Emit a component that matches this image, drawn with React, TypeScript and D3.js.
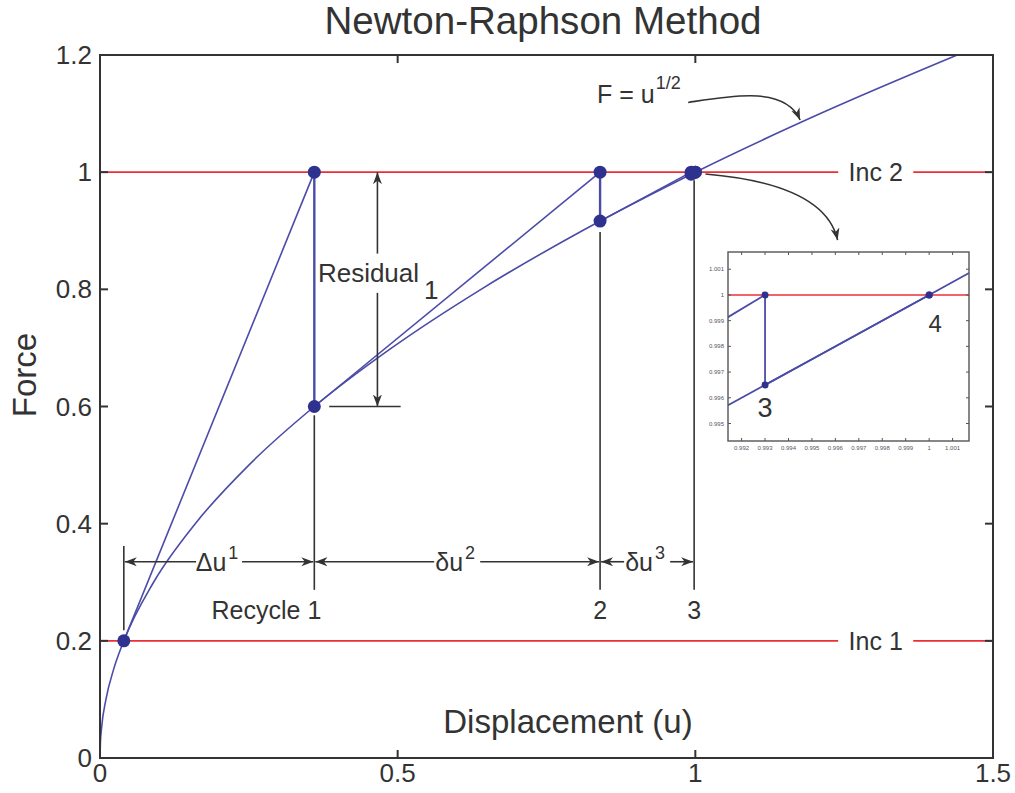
import React from "react";
import * as d3 from "d3";

const W = 1015;
const H = 793;
const PLOT = { left: 100, right: 993, top: 55, bottom: 758 };
const INSET = { left: 728, right: 969, top: 252, bottom: 441 };

const xTicks = [0, 0.5, 1, 1.5];
const yTicks = [0, 0.2, 0.4, 0.6, 0.8, 1, 1.2];

// F = u^1/2, sampled
const curveU = [0, 0.000625, 0.0025, 0.01, 0.0225, 0.04, 0.09, 0.16, 0.25, 0.36, 0.49, 0.64, 0.81, 1, 1.21, 1.44];
const curveF = [0, 0.025, 0.05, 0.1, 0.15, 0.2, 0.3, 0.4, 0.5, 0.6, 0.7, 0.8, 0.9, 1, 1.1, 1.2];

// Newton-Raphson iterations
const iterU = [0.04, 0.36, 0.84, 0.993, 1.0];
const iterF = [0.2, 0.6, 0.9165, 0.9965, 1.0];

const incLevels = [0.2, 1];
const incLabels = ["Inc 1", "Inc 2"];

// recycle markers and dimension arrows
const extU = [0.36, 0.84, 0.998];
const extTopF = [0.585, 0.898, 0.986];
const dimFrom = [0.04, 0.36, 0.84];
const dimTo = [0.36, 0.84, 0.998];
const dimBase = ["\u0394u", "\u03b4u", "\u03b4u"];
const dimSup = ["1", "2", "3"];
const recycleLabels = ["Recycle 1", "2", "3"];

// inset (zoom near u = 1)
const insetU = [0.9914, 0.995, 1.0, 1.0017];
const insetF = [0.9957, 0.9975, 1.0, 1.00085];
const insetXTicks = [0.992, 0.993, 0.994, 0.995, 0.996, 0.997, 0.998, 0.999, 1, 1.001];
const insetXLabels = ["0.992", "0.993", "0.994", "0.995", "0.996", "0.997", "0.998", "0.999", "1", "1.001"];
const insetYTicks = [0.995, 0.996, 0.997, 0.998, 0.999, 1, 1.001];
const insetYLabels = ["0.995", "0.996", "0.997", "0.998", "0.999", "1", "1.001"];

const BLUE = "#4b4ba8";
const DOT = "#2f318f";
const RED = "#ec2f36";
const INK = "#333";
const FONT = "'Liberation Sans', Arial, sans-serif";

export default function App() {
  const x = d3.scaleLinear().domain([0, 1.5]).range([PLOT.left, PLOT.right]);
  const y = d3.scaleLinear().domain([0, 1.2]).range([PLOT.bottom, PLOT.top]);
  const ix = d3.scaleLinear().domain([0.99142, 1.0017]).range([INSET.left, INSET.right]);
  const iy = d3.scaleLinear().domain([0.99432, 1.00167]).range([INSET.bottom, INSET.top]);

  const curve = d3
    .line<number>()
    .x((_, i) => x(curveU[i]))
    .y((_, i) => y(curveF[i]))
    .curve(d3.curveMonotoneX);

  const icurve = d3
    .line<number>()
    .x((_, i) => ix(insetU[i]))
    .y((_, i) => iy(insetF[i]));

  const tangents = iterU.slice(0, -1).map((u, i) => ({ u0: u, f0: iterF[i], u1: iterU[i + 1] }));
  const verticals = iterU.slice(1).map((u, i) => ({ u, f: iterF[i + 1] }));
  const dots = [
    { u: iterU[0], f: iterF[0] },
    ...iterU.slice(1).flatMap((u, i) => [
      { u, f: 1 },
      { u, f: iterF[i + 1] },
    ]),
  ];

  const arrowPath1 = d3.path();
  arrowPath1.moveTo(x(0.988), y(1.119));
  arrowPath1.bezierCurveTo(x(1.059), y(1.13), x(1.151), y(1.148), x(1.176), y(1.089));
  const arrowPath2 = d3.path();
  arrowPath2.moveTo(x(1.017), y(0.997));
  arrowPath2.bezierCurveTo(x(1.143), y(0.986), x(1.224), y(0.952), x(1.239), y(0.884));

  const tick = 8;
  const dimY = y(0.335);
  const gap = 23;
  const resX = x(0.466);

  return (
    <svg
      width={W}
      height={H}
      style={{ position: "absolute", left: 0, top: 0, background: "#fff" }}
      fontFamily={FONT}
    >
      <defs>
        <marker id="ah" markerUnits="userSpaceOnUse" markerWidth={14} markerHeight={10} refX={12} refY={4.5} orient="auto">
          <path d="M0,0 L12,4.5 L0,9 L3.5,4.5 Z" fill={INK} />
        </marker>
        <clipPath id="insetClip">
          <rect x={INSET.left} y={INSET.top} width={INSET.right - INSET.left} height={INSET.bottom - INSET.top} />
        </clipPath>
      </defs>

      {/* title */}
      <text x={543} y={34} textAnchor="middle" fontSize={39} fill={INK} textLength={437} lengthAdjust="spacingAndGlyphs">
        Newton-Raphson Method
      </text>

      {/* load levels */}
      {incLevels.map((f, i) => (
        <g key={"inc" + i}>
          <line x1={x(0)} x2={x(1.24)} y1={y(f)} y2={y(f)} stroke={RED} strokeWidth={1.6} />
          <line x1={x(1.366)} x2={x(1.5)} y1={y(f)} y2={y(f)} stroke={RED} strokeWidth={1.6} />
          <text x={x(1.303)} y={y(f) + 9} textAnchor="middle" fontSize={25} fill={INK}>
            {incLabels[i]}
          </text>
        </g>
      ))}

      {/* curve */}
      <path d={curve(curveU) || ""} fill="none" stroke={BLUE} strokeWidth={1.6} />

      {/* iterations */}
      {tangents.map((t, i) => (
        <line key={"t" + i} x1={x(t.u0)} y1={y(t.f0)} x2={x(t.u1)} y2={y(1)} stroke={BLUE} strokeWidth={1.6} />
      ))}
      {verticals.map((v, i) => (
        <line key={"v" + i} x1={x(v.u)} x2={x(v.u)} y1={y(1)} y2={y(v.f)} stroke={BLUE} strokeWidth={2.4} />
      ))}
      {dots.map((d, i) => (
        <circle key={"d" + i} cx={x(d.u)} cy={y(d.f)} r={6.5} fill={DOT} />
      ))}

      {/* extension lines */}
      <line x1={x(iterU[0])} x2={x(iterU[0])} y1={y(0.362)} y2={y(0.218)} stroke={INK} strokeWidth={1.6} />
      {extU.map((u, i) => (
        <line key={"e" + i} x1={x(u)} x2={x(u)} y1={y(extTopF[i])} y2={y(0.287)} stroke={INK} strokeWidth={1.6} />
      ))}
      {extU.map((u, i) => (
        <text key={"r" + i} x={i === 0 ? x(u) + 7 : x(u)} y={y(0.2526) + 9} textAnchor={i === 0 ? "end" : "middle"} fontSize={25} fill={INK}>
          {recycleLabels[i]}
        </text>
      ))}

      {/* dimension arrows */}
      {dimFrom.map((u0, i) => {
        const cx = (x(u0) + x(dimTo[i])) / 2;
        return (
          <g key={"dim" + i}>
            <line x1={cx - gap} x2={x(u0) + 1} y1={dimY} y2={dimY} stroke={INK} strokeWidth={1.6} markerEnd="url(#ah)" />
            <line x1={cx + gap} x2={x(dimTo[i]) - 1} y1={dimY} y2={dimY} stroke={INK} strokeWidth={1.6} markerEnd="url(#ah)" />
            <text x={cx - 2} y={dimY + 9} textAnchor="middle" fontSize={25} fill={INK}>
              {dimBase[i]}
              <tspan fontSize={18} dy={-12} dx={2}>
                {dimSup[i]}
              </tspan>
            </text>
          </g>
        );
      })}

      {/* residual */}
      <line x1={resX} x2={resX} y1={y(0.861)} y2={y(1)} stroke={INK} strokeWidth={1.6} markerEnd="url(#ah)" />
      <line x1={resX} x2={resX} y1={y(0.794)} y2={y(0.6)} stroke={INK} strokeWidth={1.6} markerEnd="url(#ah)" />
      <line x1={x(0.385)} x2={x(0.505)} y1={y(0.6)} y2={y(0.6)} stroke={INK} strokeWidth={1.6} />
      <text x={x(0.366)} y={y(0.812)} fontSize={26} fill={INK}>
        Residual
        <tspan dx={5} dy={17}>
          1
        </tspan>
      </text>

      {/* function label */}
      <text x={x(0.835)} y={y(1.118)} fontSize={25} fill={INK}>
        F = u
        <tspan fontSize={18} dy={-14} dx={1}>
          1/2
        </tspan>
      </text>
      <path d={arrowPath1.toString()} fill="none" stroke={INK} strokeWidth={1.6} markerEnd="url(#ah)" />
      <path d={arrowPath2.toString()} fill="none" stroke={INK} strokeWidth={1.6} markerEnd="url(#ah)" />

      {/* axes frame */}
      <rect x={PLOT.left} y={PLOT.top} width={PLOT.right - PLOT.left} height={PLOT.bottom - PLOT.top} fill="none" stroke={INK} strokeWidth={2} />
      {xTicks.map((t) => (
        <g key={"xt" + t}>
          <line x1={x(t)} x2={x(t)} y1={PLOT.bottom} y2={PLOT.bottom - tick} stroke={INK} strokeWidth={2} />
          <line x1={x(t)} x2={x(t)} y1={PLOT.top} y2={PLOT.top + tick} stroke={INK} strokeWidth={2} />
          <text x={x(t)} y={782} textAnchor="middle" fontSize={26} fill={INK}>
            {String(t)}
          </text>
        </g>
      ))}
      {yTicks.map((t) => (
        <g key={"yt" + t}>
          <line x1={PLOT.left} x2={PLOT.left + tick} y1={y(t)} y2={y(t)} stroke={INK} strokeWidth={2} />
          <line x1={PLOT.right} x2={PLOT.right - tick} y1={y(t)} y2={y(t)} stroke={INK} strokeWidth={2} />
          <text x={92} y={y(t) + 9} textAnchor="end" fontSize={26} fill={INK}>
            {String(t)}
          </text>
        </g>
      ))}
      <text x={568} y={733} textAnchor="middle" fontSize={33} fill={INK}>
        Displacement (u)
      </text>
      <text transform={`translate(36,${375}) rotate(-90)`} textAnchor="middle" fontSize={33} fill={INK}>
        Force
      </text>

      {/* inset */}
      <rect x={INSET.left} y={INSET.top} width={INSET.right - INSET.left} height={INSET.bottom - INSET.top} fill="#fff" />
      <g clipPath="url(#insetClip)">
        <line x1={INSET.left} x2={INSET.right} y1={iy(1)} y2={iy(1)} stroke={RED} strokeWidth={1.6} />
        <path d={icurve(insetU) || ""} fill="none" stroke={BLUE} strokeWidth={1.8} />
        {tangents.map((t, i) => (
          <line key={"it" + i} x1={ix(t.u0)} y1={iy(t.f0)} x2={ix(t.u1)} y2={iy(1)} stroke={BLUE} strokeWidth={1.8} />
        ))}
        {verticals.map((v, i) => (
          <line key={"iv" + i} x1={ix(v.u)} x2={ix(v.u)} y1={iy(1)} y2={iy(v.f)} stroke={BLUE} strokeWidth={1.8} />
        ))}
        {dots.map((d, i) => (
          <circle key={"id" + i} cx={ix(d.u)} cy={iy(d.f)} r={3.5} fill={DOT} />
        ))}
      </g>
      <rect x={INSET.left} y={INSET.top} width={INSET.right - INSET.left} height={INSET.bottom - INSET.top} fill="none" stroke="#555" strokeWidth={1.4} />
      {insetXTicks.map((t, i) => (
        <g key={"ixt" + i}>
          <line x1={ix(t)} x2={ix(t)} y1={INSET.bottom} y2={INSET.bottom - 3} stroke="#555" strokeWidth={1} />
          <line x1={ix(t)} x2={ix(t)} y1={INSET.top} y2={INSET.top + 3} stroke="#555" strokeWidth={1} />
          <text x={ix(t)} y={INSET.bottom + 9} textAnchor="middle" fontSize={6} fill="#556">
            {insetXLabels[i]}
          </text>
        </g>
      ))}
      {insetYTicks.map((t, i) => (
        <g key={"iyt" + i}>
          <line x1={INSET.left} x2={INSET.left + 3} y1={iy(t)} y2={iy(t)} stroke="#555" strokeWidth={1} />
          <line x1={INSET.right} x2={INSET.right - 3} y1={iy(t)} y2={iy(t)} stroke="#555" strokeWidth={1} />
          <text x={INSET.left - 4} y={iy(t) + 2} textAnchor="end" fontSize={6} fill="#556">
            {insetYLabels[i]}
          </text>
        </g>
      ))}
      <text x={ix(iterU[3])} y={iy(iterF[3]) + 32} textAnchor="middle" fontSize={27} fill={INK}>
        3
      </text>
      <text x={ix(iterU[4]) + 6} y={iy(1) + 37} textAnchor="middle" fontSize={24} fill={INK}>
        4
      </text>
    </svg>
  );
}
